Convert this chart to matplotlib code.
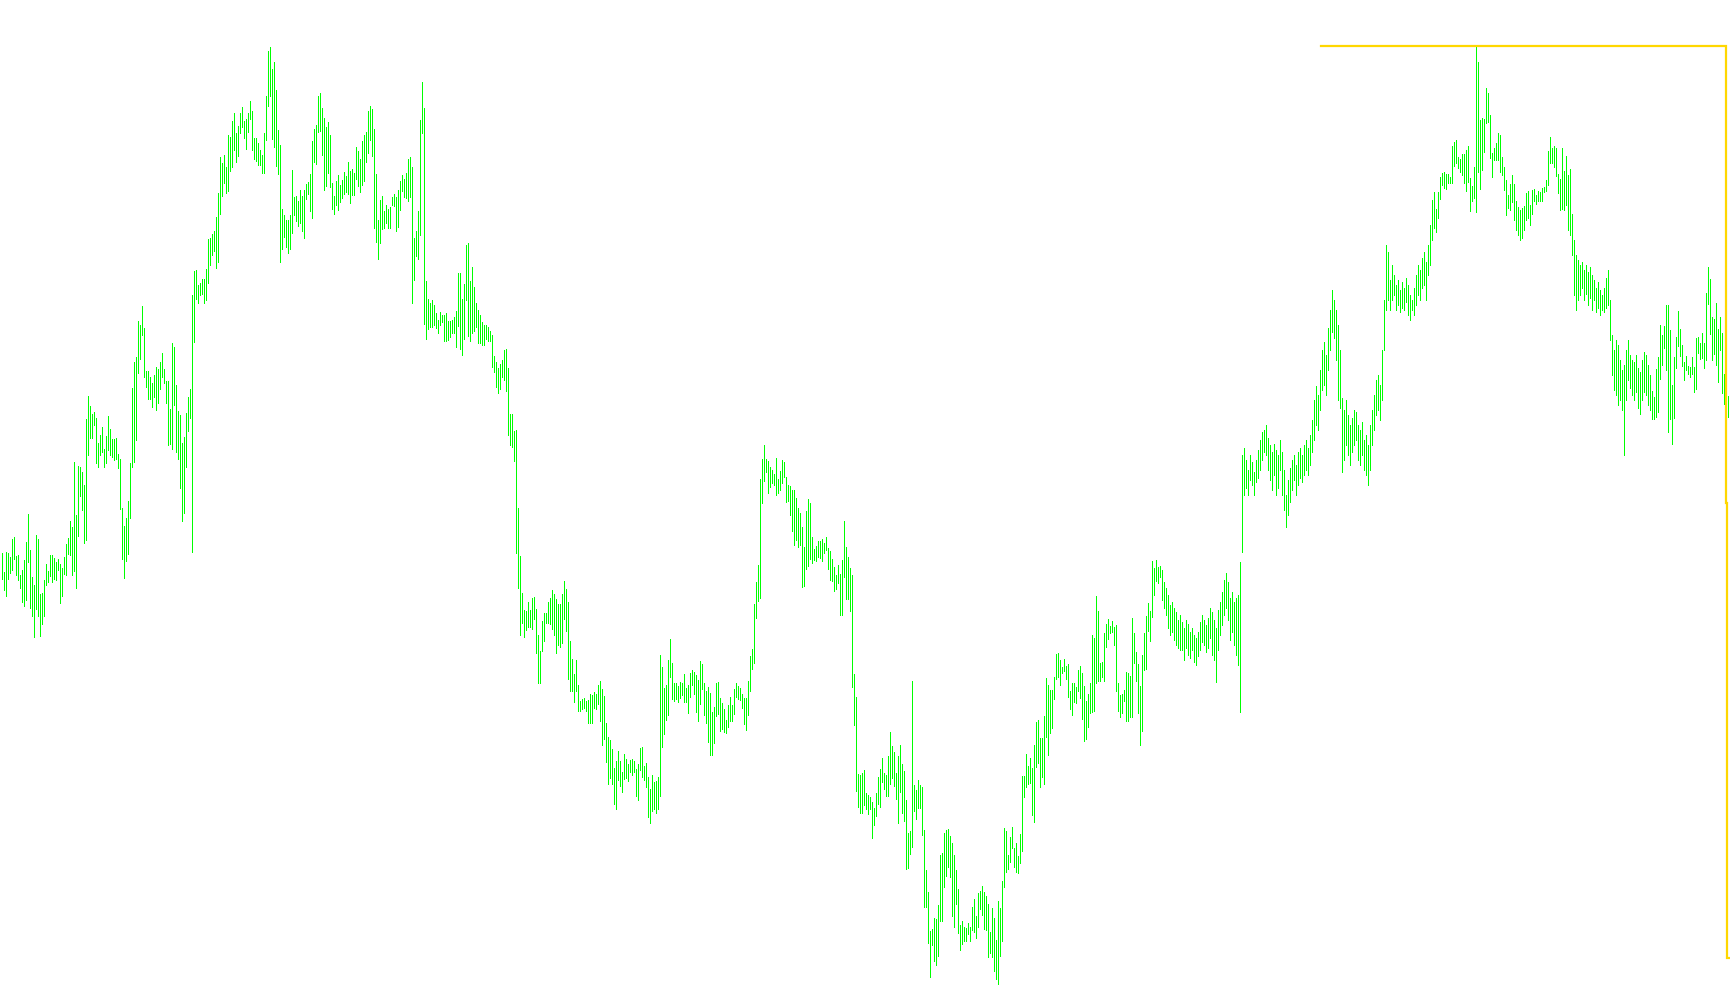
import numpy as np
import matplotlib
matplotlib.use('Agg')
import matplotlib.pyplot as plt

# bar highs / lows, in chunks from left to right
high_01 = [447, 428, 448, 447, 443, 461, 463, 444, 445, 425, 430, 440, 458, 486, 450, 423, 415, 465, 461, 406,
           407, 420, 436, 429, 445, 445, 442, 438, 441, 436, 432, 443, 456, 462, 479, 473, 538, 485, 534, 533,
           528, 515, 581, 604, 594, 586, 588, 582, 557, 565, 573, 551, 564, 584, 571, 561, 561, 562, 546, 541,
           492, 474, 482, 499, 537, 612, 638, 643, 679, 675, 694, 672]
low_01 = [421, 410, 404, 421, 427, 430, 441, 425, 420, 412, 398, 394, 400, 438, 392, 384, 363, 391, 384, 364,
          376, 384, 415, 418, 424, 418, 421, 420, 430, 397, 404, 426, 425, 446, 445, 425, 429, 412, 464, 504,
          490, 457, 460, 545, 562, 562, 575, 537, 533, 545, 548, 533, 537, 550, 545, 543, 540, 541, 532, 491,
          441, 422, 439, 446, 482, 533, 538, 560, 627, 641, 665, 623]

high_02 = [629, 629, 623, 617, 625, 633, 631, 638, 647, 631, 619, 619, 591, 657, 653, 615, 589, 585, 557, 563,
           587, 603, 611, 705, 729, 730, 715, 717, 721, 721, 731, 761, 762, 766, 769, 783, 807, 843, 837, 845,
           833, 865, 863, 879, 887, 867, 874, 887, 893, 879, 881, 887, 899, 889, 862, 862, 857, 850, 845, 867,
           904, 949, 953, 931, 938, 910, 870, 855, 791, 785, 780, 780, 785]
low_02 = [613, 601, 601, 593, 603, 590, 597, 611, 623, 617, 597, 555, 556, 551, 595, 548, 541, 512, 479, 487,
          533, 569, 582, 448, 658, 701, 697, 705, 706, 697, 700, 717, 735, 745, 749, 732, 738, 786, 804, 817,
          807, 809, 829, 833, 850, 838, 844, 867, 873, 862, 851, 868, 881, 850, 841, 839, 835, 835, 827, 827,
          860, 894, 904, 861, 853, 834, 826, 738, 751, 763, 753, 747, 751]

high_03 = [830, 803, 804, 799, 810, 804, 810, 816, 818, 826, 859, 871, 875, 904, 907, 892, 882, 873, 878, 865,
           817, 804, 819, 825, 815, 820, 828, 824, 838, 829, 831, 827, 853, 849, 841, 859, 865, 868, 889, 894,
           891, 871, 826, 780, 800, 804, 789, 795, 791, 793, 803, 806, 803, 810, 819, 825, 821, 827, 841, 843,
           833, 762, 769, 789, 880, 918, 892, 719, 701, 697, 700, 695]
low_03 = [767, 785, 779, 774, 777, 769, 762, 801, 806, 789, 782, 838, 836, 868, 869, 845, 810, 814, 827, 813,
          791, 786, 795, 790, 798, 802, 806, 808, 806, 797, 805, 805, 821, 814, 808, 815, 819, 838, 847, 860,
          844, 772, 758, 741, 757, 771, 772, 777, 772, 772, 795, 794, 769, 773, 790, 809, 803, 802, 799, 803,
          697, 720, 744, 741, 765, 867, 676, 661, 671, 673, 673, 675]

high_04 = [687, 680, 688, 685, 685, 687, 679, 679, 680, 683, 689, 727, 727, 701, 716, 755, 757, 719, 733, 713,
           697, 690, 685, 678, 675, 675, 673, 669, 665, 644, 638, 632, 636, 640, 650, 651, 632, 586, 586, 569,
           570, 492, 444, 407, 390, 389, 398, 390, 402, 403, 391, 365, 349, 379, 387, 387, 398, 402, 410, 406,
           401, 396, 396, 406, 419, 411, 398, 359, 341, 326, 340, 315, 299]
low_04 = [672, 667, 675, 678, 659, 659, 660, 663, 667, 667, 653, 674, 651, 645, 661, 700, 664, 659, 667, 669,
          673, 657, 657, 655, 655, 661, 659, 659, 633, 628, 613, 607, 611, 623, 620, 609, 565, 555, 553, 539,
          447, 412, 365, 377, 363, 370, 373, 373, 371, 381, 347, 317, 317, 349, 359, 377, 377, 376, 371, 365,
          347, 355, 353, 357, 381, 369, 321, 309, 309, 298, 309, 289, 289]

high_05 = [301, 302, 299, 300, 306, 305, 308, 306, 315, 319, 311, 304, 277, 263, 260, 251, 232, 239, 249, 239,
           228, 246, 241, 236, 240, 241, 239, 231, 236, 252, 253, 234, 237, 223, 211, 225, 218, 219, 223, 345,
           333, 312, 315, 340, 361, 337, 317, 317, 314, 318, 317, 326, 312, 315, 327, 330, 328, 325, 320, 339,
           336, 317, 309, 313, 307, 288, 293, 317, 318, 302, 297, 291]
low_05 = [291, 292, 289, 277, 277, 277, 292, 291, 296, 279, 255, 261, 238, 216, 222, 216, 196, 191, 220, 214,
          208, 221, 222, 219, 228, 225, 228, 204, 200, 230, 223, 220, 213, 183, 177, 189, 191, 187, 191, 204,
          253, 266, 280, 285, 323, 301, 299, 301, 298, 302, 305, 298, 298, 287, 303, 315, 306, 288, 279, 296,
          311, 285, 277, 258, 245, 245, 257, 284, 286, 269, 271, 268]

high_06 = [280, 295, 303, 295, 311, 317, 314, 312, 306, 302, 302, 319, 344, 351, 396, 418, 435, 521, 541, 555,
           541, 539, 533, 530, 526, 542, 521, 529, 540, 538, 523, 515, 514, 510, 510, 502, 492, 487, 473, 453,
           489, 501, 497, 463, 451, 454, 459, 459, 461, 457, 463, 452, 449, 441, 433, 425, 435, 426, 440, 479,
           453, 443, 432, 425, 326, 303, 226, 225, 227, 230, 207, 205, 203]
low_06 = [267, 273, 279, 279, 286, 303, 301, 300, 292, 276, 270, 285, 309, 331, 337, 382, 399, 402, 497, 519,
          528, 507, 513, 517, 515, 505, 507, 510, 517, 523, 498, 499, 485, 469, 455, 460, 453, 455, 413, 414,
          431, 434, 441, 437, 440, 439, 443, 442, 439, 447, 450, 431, 420, 419, 409, 411, 417, 385, 385, 423,
          401, 401, 389, 313, 275, 209, 193, 187, 187, 195, 191, 186, 191]

high_07 = [198, 192, 207, 223, 231, 242, 227, 225, 244, 268, 254, 248, 227, 244, 255, 236, 229, 200, 167, 169,
           319, 215, 210, 220, 215, 213, 170, 130, 108, 69, 71, 82, 81, 95, 145, 147, 167, 170, 171, 164,
           157, 145, 130, 111, 75, 79, 73, 72, 77, 73, 93, 101, 84, 107, 109, 114, 108, 104, 96, 68,
           92, 82, 60, 99, 92, 119, 172, 169, 145, 163, 173, 152]
low_07 = [162, 175, 184, 196, 193, 218, 211, 204, 204, 216, 222, 214, 201, 177, 208, 187, 179, 131, 132, 146,
          153, 189, 181, 192, 192, 165, 93, 93, 57, 23, 55, 39, 35, 44, 79, 79, 113, 124, 133, 123,
          84, 73, 96, 67, 50, 56, 59, 59, 66, 59, 70, 68, 62, 73, 91, 85, 71, 70, 43, 47,
          43, 29, 21, 16, 44, 59, 113, 128, 131, 138, 152, 133]

high_08 = [157, 144, 166, 224, 224, 246, 234, 242, 232, 255, 278, 280, 262, 262, 284, 322, 315, 310, 310, 323,
           346, 347, 340, 333, 341, 334, 336, 309, 317, 317, 313, 330, 334, 327, 314, 299, 306, 317, 365, 362,
           404, 389, 337, 338, 367, 376, 381, 374, 379, 373, 375, 317, 305, 306, 310, 328, 327, 324, 382, 367,
           348, 336, 314, 345, 367, 384, 397, 389, 439, 432, 440, 433, 434]
low_08 = [128, 127, 137, 149, 203, 213, 216, 217, 185, 178, 233, 237, 213, 223, 216, 263, 245, 267, 272, 301,
          321, 323, 315, 327, 329, 321, 303, 291, 285, 298, 297, 309, 302, 281, 259, 261, 273, 287, 288, 289,
          317, 319, 319, 323, 319, 353, 361, 367, 368, 355, 309, 289, 283, 287, 299, 279, 279, 283, 283, 337,
          319, 287, 255, 269, 330, 331, 369, 359, 383, 405, 419, 417, 423]

high_09 = [430, 418, 412, 405, 395, 398, 392, 388, 380, 385, 378, 372, 380, 376, 368, 372, 365, 362, 368, 378,
           385, 380, 375, 382, 392, 388, 380, 372, 390, 398, 408, 420, 427, 418, 402, 408, 398, 402, 405, 438,
           545, 552, 540, 530, 545, 538, 528, 540, 550, 560, 568, 570, 575, 562, 555, 548, 556, 550, 545, 560,
           548, 530, 505, 520, 532, 540, 545, 535, 548, 552, 545, 555, 560, 552, 565, 580, 600, 614, 605, 630,
           650, 658, 645, 672, 690, 710, 700, 690, 675, 650, 602, 590, 600, 585, 575, 582, 590, 588, 575, 570,
           578, 560, 565, 555, 575, 590, 605, 620, 625, 615, 650, 700, 755, 748, 720, 735, 725, 715, 720, 710,
           718, 712, 722, 715, 705, 700, 712, 725, 735, 730, 742, 748, 738, 755, 775]
low_09 = [400, 392, 385, 372, 365, 368, 360, 355, 352, 350, 350, 340, 352, 345, 342, 350, 338, 335, 344, 350,
          358, 355, 348, 352, 362, 345, 340, 318, 350, 365, 375, 385, 392, 380, 360, 368, 355, 345, 335, 288,
          448, 505, 512, 505, 520, 515, 505, 518, 522, 530, 540, 548, 545, 530, 520, 510, 525, 505, 512, 530,
          505, 490, 473, 485, 498, 510, 520, 505, 515, 522, 518, 525, 530, 525, 535, 548, 560, 575, 570, 590,
          610, 615, 605, 630, 650, 668, 662, 640, 600, 592, 528, 540, 555, 545, 535, 548, 555, 560, 540, 535,
          545, 530, 525, 515, 530, 555, 570, 585, 590, 580, 600, 650, 690, 700, 690, 700, 705, 690, 695, 688,
          692, 690, 698, 685, 680, 690, 685, 695, 705, 700, 712, 715, 700, 725, 735]

high_10 = [800, 808, 791, 808, 823, 827, 828, 826, 826, 823, 854, 858, 860, 843, 841, 846, 846, 850, 854, 822,
           814, 833, 954, 938, 880, 882, 881, 912, 907, 885, 847, 852, 857, 867, 865, 843, 833, 820, 805, 816,
           825, 816, 799, 793, 790, 792, 794, 807, 809, 795, 810, 811, 805, 809, 808, 812, 813, 820, 849, 863,
           852, 854, 852, 826, 821, 852, 829, 844, 825, 831, 786]
low_10 = [760, 772, 768, 782, 801, 815, 812, 811, 817, 817, 817, 834, 837, 832, 828, 825, 817, 809, 818, 789,
          799, 802, 788, 828, 811, 830, 848, 877, 878, 842, 823, 840, 840, 840, 828, 825, 810, 785, 792, 790,
          798, 780, 770, 765, 760, 762, 770, 780, 782, 775, 786, 799, 796, 799, 799, 799, 808, 809, 815, 837,
          837, 833, 824, 807, 790, 791, 790, 795, 770, 765, 745]

high_11 = [760, 745, 740, 735, 738, 730, 735, 728, 733, 725, 720, 712, 718, 710, 705, 712, 722, 730, 700, 665,
           650, 660, 655, 640, 630, 635, 650, 660, 645, 640, 638, 645, 632, 628, 640, 648, 645, 635, 625]
low_11 = [705, 690, 700, 705, 712, 700, 706, 695, 702, 690, 700, 688, 692, 685, 690, 688, 692, 695, 660, 625,
          610, 605, 595, 600, 590, 545, 600, 620, 612, 605, 600, 608, 592, 586, 600, 608, 605, 595, 590]

high_12 = [609, 603, 631, 643, 675, 665, 674, 695, 695, 670, 615, 643, 663, 689, 671, 655, 638, 644, 634, 633,
           643, 633, 662, 663, 657, 667, 657, 707, 733, 721, 683, 681, 697, 671, 683, 667, 626, 606, 604, 602]
low_12 = [581, 581, 583, 588, 621, 635, 652, 630, 568, 581, 556, 582, 632, 654, 644, 634, 620, 630, 626, 623,
          626, 608, 611, 647, 641, 642, 632, 640, 696, 666, 640, 646, 635, 618, 650, 607, 596, 586, 583, 583]

# yellow level line (bar index, price)
level_x = [659.5, 862.25, 862.25, 862.75, 862.75, 864.5]
level_y = [954, 954, 497, 497, 42, 42]

highs = np.concatenate([high_01, high_02, high_03, high_04, high_05, high_06,
                        high_07, high_08, high_09, high_10, high_11, high_12])
lows = np.concatenate([low_01, low_02, low_03, low_04, low_05, low_06,
                       low_07, low_08, low_09, low_10, low_11, low_12])
bars = np.arange(len(highs))

fig = plt.figure(figsize=(17.3, 10.05), dpi=100)
ax = fig.add_axes([0, 0, 1, 1])
ax.vlines(bars, lows, highs, colors='#00ff00', linewidth=0.5, antialiased=False)
ax.plot(level_x, level_y, color='#ffd700', linewidth=1.6, solid_joinstyle='miter')
ax.set_xlim(-0.75, 864.25)
ax.set_ylim(-5, 1000)
ax.axis('off')

fig.savefig('out.png', dpi=100, facecolor='white')
